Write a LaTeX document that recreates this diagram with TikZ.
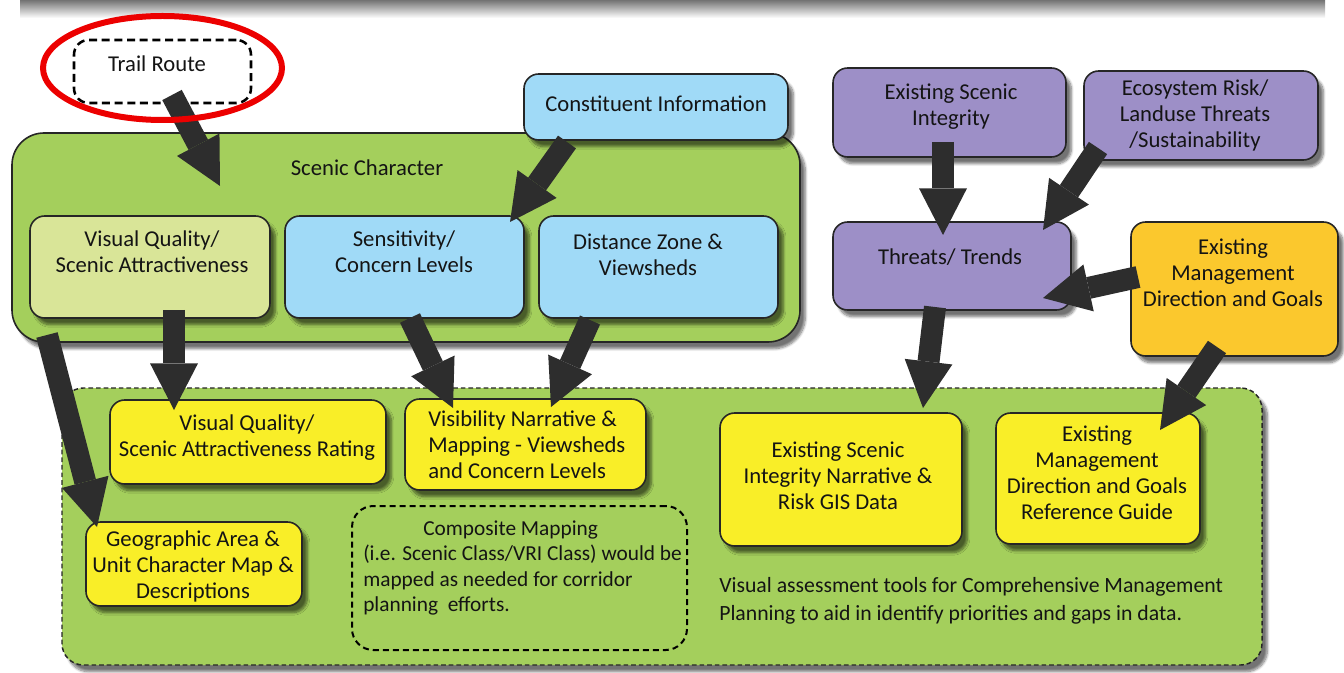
\documentclass[tikz,border=0pt]{standalone}
\usepackage{fontspec}
\setmainfont{Carlito}
\usetikzlibrary{arrows.meta,shadows.blur,shapes.geometric}
\definecolor{grn}{RGB}{164,207,92}
\definecolor{lgrn}{RGB}{217,229,152}
\definecolor{lblue}{RGB}{160,218,247}
\definecolor{purp}{RGB}{157,143,199}
\definecolor{orng}{RGB}{251,200,45}
\definecolor{yel}{RGB}{249,238,40}
\definecolor{arrowgray}{RGB}{45,45,45}
\definecolor{hired}{RGB}{236,0,0}
\tikzset{
  wh/.style 2 args={minimum width=#1*0.75pt, minimum height=#2*0.75pt},
  shad/.style={blur shadow={shadow xshift=4pt, shadow yshift=-5pt, shadow blur steps=8, shadow opacity=55}},
  box/.style={draw=black!85, line width=1.2pt, rounded corners=11pt, inner sep=0pt, shad},
  txt/.style={font=\fontsize{17}{19.5}\selectfont, align=center, inner sep=0pt, text=black!92},
  smalltxt/.style={txt, font=\fontsize{16}{19}\selectfont},
  bigarrow/.style={draw=arrowgray, line width=16.5pt, -{Triangle[length=35pt,width=36pt,line width=0pt]}},
}
\begin{document}
\begin{tikzpicture}[x=0.75pt,y=-0.75pt]
\useasboundingbox (0,0) rectangle (1344,673);
% top gray bar (cut-off box above)
\shade[top color=black!55, bottom color=white] (20,0) rectangle (1325,18);

% ---- Scenic Character group
\node[box, rounded corners=24pt, fill=grn, wh={788}{209}] (sc) at (406,237.5) {};
\node[txt] (sct) at (367,168) {Scenic Character};
\node[box, fill=lgrn, wh={240}{102}] (vq) at (150,267) {};
\node[txt] (vqt) at (152,252) {Visual Quality/\\Scenic Attractiveness};
\node[box, fill=lblue, wh={239}{102}] (sens) at (404.5,267) {};
\node[txt] (senst) at (404,252) {Sensitivity/\\Concern Levels};
\node[box, fill=lblue, wh={239}{102}] (dist) at (658.5,267) {};
\node[txt] (distt) at (648,255) {Distance Zone \&\\Viewsheds};
\node[box, fill=lblue, wh={264}{66}] (const) at (656,107) {};
\node[txt] (constt) at (656,104) {Constituent Information};

% ---- Trail route
\node[draw=black, line width=1.9pt, dash pattern=on 6pt off 3.5pt, rounded corners=11pt, fill=white, wh={177}{63}] (trail) at (162.5,71.5) {};
\node[txt] (trailt) at (157,64) {Trail Route};

% ---- right group
\node[box, fill=purp, wh={233}{89}] (esi) at (949.5,112.5) {};
\node[txt] (esit) at (951,107) {Existing Scenic\\Integrity};
\node[box, fill=purp, wh={234}{89}] (eco) at (1201,115.5) {};
\node[txt] (ecot) at (1195,115) {Ecosystem Risk/\\Landuse Threats\\/Sustainability};
\node[box, fill=purp, wh={238}{88}] (tt) at (952,266) {};
\node[txt] (ttt) at (950,257) {Threats/ Trends};
\node[box, fill=orng, wh={207}{134}] (emdg) at (1234.5,289) {};
\node[txt] (emdgt) at (1233,273) {Existing\\Management\\Direction and Goals};

% ---- bottom dashed panel
\node[draw=black!85, line width=1.1pt, dash pattern=on 3.5pt off 2.2pt, rounded corners=16pt, fill=grn, shad, wh={1200}{277}] (panel) at (662,526.5) {};
\node[box, fill=yel, wh={276}{84}] (vqr) at (248,442) {};
\node[txt] (vqrt) at (247,438) {Visual Quality/\\Scenic Attractiveness Rating};
\node[box, fill=yel, wh={241}{91}] (vis) at (525.5,444.5) {};
\node[txt, align=left, anchor=west] (vist) at (428,444.5) {Visibility Narrative \&\\Mapping - Viewsheds\\and Concern Levels};
\node[box, fill=yel, wh={216}{84}] (geo) at (194,564) {};
\node[txt] (geot) at (193,566) {Geographic Area \&\\Unit Character Map \&\\Descriptions};
\node[draw=black, line width=1.5pt, dash pattern=on 4.5pt off 3pt, rounded corners=16pt, wh={335}{144}] (comp) at (519.5,578) {};
\node[smalltxt, align=left, anchor=west] (compt) at (363,568) {\hspace*{45pt}Composite Mapping\\(i.e. Scenic Class/VRI Class) would be\\mapped as needed for corridor\\planning\ \ efforts.};
\node[box, fill=yel, wh={242}{133}] (esin) at (841,479.5) {};
\node[txt] (esint) at (838,476) {Existing Scenic\\Integrity Narrative \&\\Risk GIS Data};
\node[box, fill=yel, wh={204}{131}] (emrg) at (1098,478.5) {};
\node[txt] (emrgt) at (1097,473) {Existing\\Management\\Direction and Goals\\Reference Guide};
\node[smalltxt, align=left, anchor=west, font=\fontsize{16.3}{21}\selectfont] (note) at (719,601) {Visual assessment tools for Comprehensive Management\\Planning to aid in identify priorities and gaps in data.};

% ---- arrow end points
\coordinate (a1s) at (172,95);   \coordinate (a1e) at (220,186);
\coordinate (a2s) at (567,142);  \coordinate (a2e) at (510,222);
\coordinate (a3s) at (174,310);  \coordinate (a3e) at (174,410);
\coordinate (a4s) at (47,335);   \coordinate (a4e) at (97,527);
\coordinate (a5s) at (410,318);  \coordinate (a5e) at (453,408);
\coordinate (a6s) at (590,320);  \coordinate (a6e) at (551,407);
\coordinate (a7s) at (943,142);  \coordinate (a7e) at (943,235);
\coordinate (a8s) at (1098,148); \coordinate (a8e) at (1043,230);
\coordinate (a9s) at (1138,277); \coordinate (a9e) at (1043,298);
\coordinate (a10s) at (935,307); \coordinate (a10e) at (923,408);
\coordinate (a11s) at (1217,347);\coordinate (a11e) at (1160,430);

\foreach \i in {1,...,11} {\draw[bigarrow] (a\i s) -- (a\i e);}

% ---- red highlight
\node[draw=hired, line width=4.5pt, ellipse, inner sep=0pt, wh={239}{104}] (hl) at (162.5,68) {};
\end{tikzpicture}
\end{document}
